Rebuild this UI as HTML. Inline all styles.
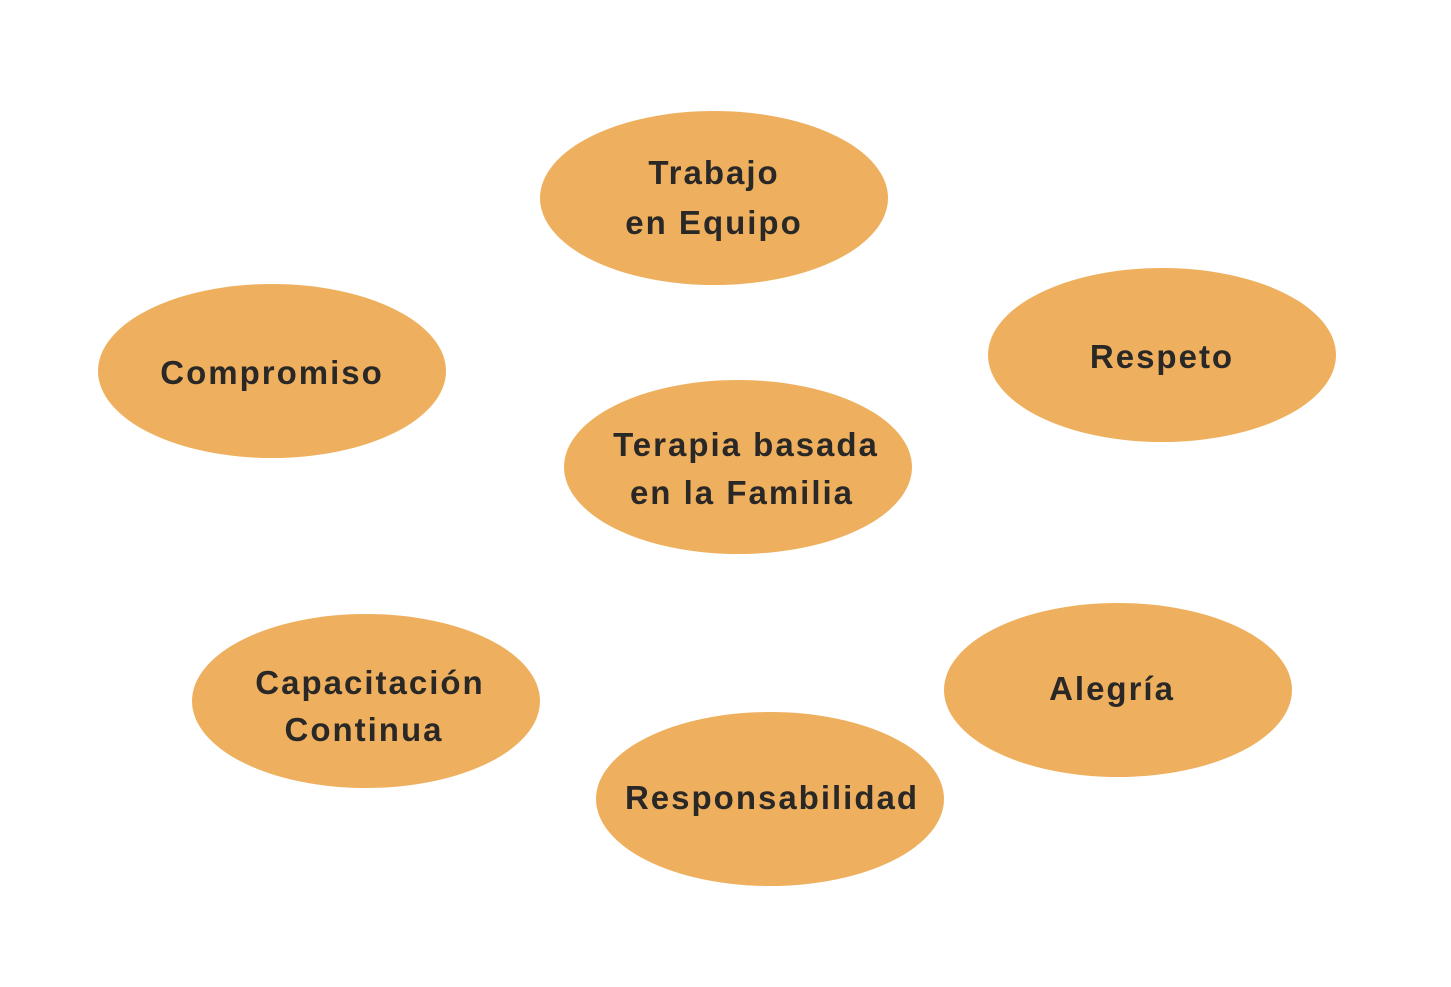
<!DOCTYPE html>
<html><head><meta charset="utf-8"><style>
html,body{margin:0;padding:0;background:#fff;}
svg text{font-family:"Liberation Sans",sans-serif;font-weight:bold;font-size:33px;fill:#2a2826;letter-spacing:2px;text-anchor:middle;}
</style></head><body>
<svg width="1451" height="982" viewBox="0 0 1451 982" xmlns="http://www.w3.org/2000/svg">
<g fill="#EEB05E">
<ellipse cx="714" cy="198" rx="174" ry="87"/>
<ellipse cx="272" cy="371" rx="174" ry="87"/>
<ellipse cx="1162" cy="355" rx="174" ry="87"/>
<ellipse cx="738" cy="467" rx="174" ry="87"/>
<ellipse cx="366" cy="701" rx="174" ry="87"/>
<ellipse cx="1118" cy="690" rx="174" ry="87"/>
<ellipse cx="770" cy="799" rx="174" ry="87"/>
</g>
<text x="714" y="184">Trabajo</text>
<text x="714" y="234">en Equipo</text>
<text x="272" y="384">Compromiso</text>
<text x="1162" y="368">Respeto</text>
<text x="746" y="456">Terapia basada</text>
<text x="742" y="504">en la Familia</text>
<text x="370" y="694">Capacitación</text>
<text x="364" y="741">Continua</text>
<text x="1112" y="700">Alegría</text>
<text x="772" y="809">Responsabilidad</text>
</svg>
</body></html>
